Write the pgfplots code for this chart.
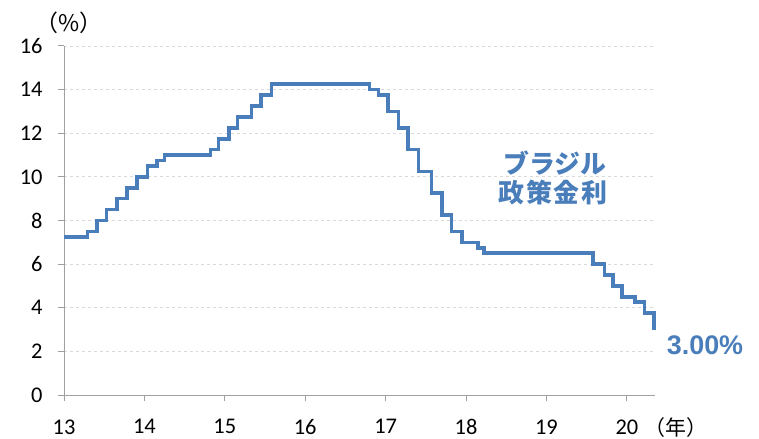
\documentclass[border=0pt]{standalone}
\usepackage{pgfplots}
\pgfplotsset{compat=1.18}
\usepackage{fontspec}
\setmainfont{Carlito}
\newfontfamily\jp{Noto Sans CJK JP}
\newfontfamily\lib{Liberation Sans}
\definecolor{selic}{RGB}{74,126,187}
\definecolor{axgray}{RGB}{160,160,160}
\definecolor{gridgray}{RGB}{217,217,217}
\begin{document}
\begin{tikzpicture}
\path[use as bounding box] (0,0) rectangle (759bp,439bp);
\begin{axis}[
  at={(64bp,44bp)}, anchor=south west,
  scale only axis, width=591bp, height=349bp,
  xmin=13, xmax=20.35, ymin=0, ymax=16,
  xtick={13,14,...,20}, ytick={0,2,...,16},
  axis x line*=bottom, axis y line*=left,
  axis line style={axgray, line width=1bp},
  tick style={axgray, line width=1bp},
  tick align=outside, major tick length=6bp,
  ymajorgrids, grid style={dashed, gridgray, line width=0.8bp},
  /pgf/number format/assume math mode=true,
  ticklabel style={font=\fontsize{22.5}{26}\selectfont, text=black},
  xticklabel style={yshift=-15bp},
  yticklabel style={xshift=-12bp},
  clip=false,
]
\addplot[const plot, color=selic, line width=3.6bp, line join=miter] coordinates {
(13.00,7.25) (13.29,7.50) (13.41,8.00) (13.53,8.50) (13.66,9.00) (13.78,9.50)
(13.91,10.00) (14.04,10.50) (14.16,10.75) (14.25,11.00) (14.82,11.25) (14.92,11.75)
(15.05,12.25) (15.16,12.75) (15.33,13.25) (15.45,13.75) (15.58,14.25) (16.80,14.00)
(16.91,13.75) (17.03,13.00) (17.16,12.25) (17.28,11.25) (17.41,10.25) (17.57,9.25)
(17.70,8.25) (17.82,7.50) (17.95,7.00) (18.15,6.75) (18.22,6.50) (19.58,6.00)
(19.72,5.50) (19.83,5.00) (19.94,4.50) (20.10,4.25) (20.22,3.75) (20.34,3.00)
};
\end{axis}
\node[font=\jp\fontsize{23}{26}\selectfont] at (69bp,416bp) {（\%）};
\node[font=\jp\fontsize{21}{24}\selectfont] at (676bp,11bp) {（年）};
\node[font=\jp\bfseries\fontsize{26}{29}\selectfont, text=selic] at (555bp,276bp) {ブラジル};
\node[font=\jp\bfseries\fontsize{26}{29}\selectfont, text=selic] at (553bp,246bp) {政\hspace{2bp}策\hspace{2bp}金\hspace{2bp}利};
\node[font=\lib\bfseries\fontsize{27}{30}\selectfont, text=selic] at (705bp,94bp) {3.00\%};
\end{tikzpicture}
\end{document}
